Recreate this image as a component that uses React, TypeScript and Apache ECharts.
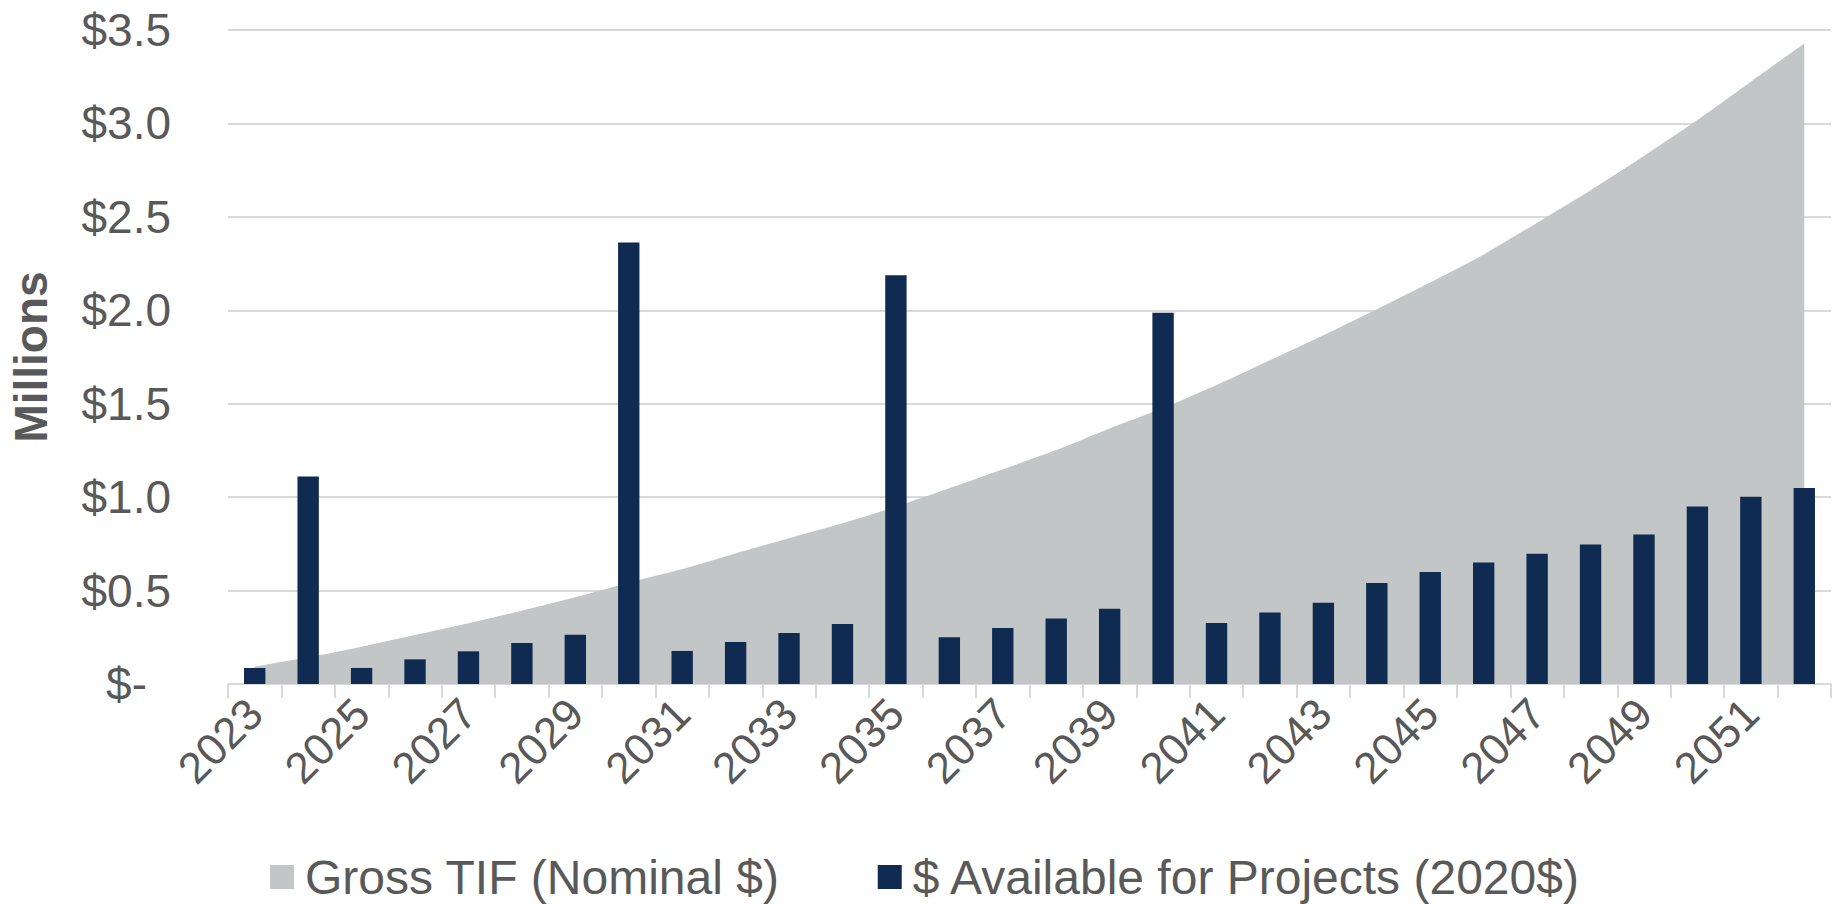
import React, { useEffect, useRef } from "react";
import * as echarts from "echarts";

const years = [
  "2023", "2024", "2025", "2026", "2027", "2028", "2029", "2030", "2031", "2032",
  "2033", "2034", "2035", "2036", "2037", "2038", "2039", "2040", "2041", "2042",
  "2043", "2044", "2045", "2046", "2047", "2048", "2049", "2050", "2051", "2052",
];

const grossTIF = [
  0.093, 0.143, 0.2, 0.262, 0.325, 0.392, 0.464, 0.542, 0.615, 0.699,
  0.78, 0.86, 0.949, 1.047, 1.149, 1.252, 1.368, 1.477, 1.6, 1.733,
  1.867, 2.006, 2.149, 2.299, 2.469, 2.643, 2.826, 3.018, 3.223, 3.428,
];

const availableForProjects = [
  0.085, 1.11, 0.086, 0.132, 0.175, 0.219, 0.264, 2.363, 0.177, 0.225,
  0.273, 0.321, 2.187, 0.25, 0.3, 0.351, 0.403, 1.987, 0.326, 0.382,
  0.435, 0.54, 0.6, 0.65, 0.697, 0.746, 0.8, 0.95, 1.002, 1.049,
];

const seriesNames = ["Gross TIF (Nominal $)", "$ Available for Projects (2020$)"];
const axisTitle = "Millions";

const TEXT = "#595959";
const FONT = "'Liberation Sans', Arial, sans-serif";

export default function App() {
  const ref = useRef<HTMLDivElement>(null);

  useEffect(() => {
    document.body.style.margin = "0";
    if (!ref.current) return;
    const chart = echarts.init(ref.current, undefined, { renderer: "svg" });
    chart.setOption({
      animation: false,
      textStyle: { fontFamily: FONT, color: TEXT },
      grid: { left: 227, right: 4, top: 30, bottom: 220, containLabel: false },
      legend: {
        data: [
          { name: seriesNames[0], icon: "rect" },
          { name: seriesNames[1], icon: "rect" },
        ],
        left: 270,
        top: 853,
        padding: 0,
        itemWidth: 24,
        itemHeight: 24,
        itemGap: 98,
        textStyle: { fontSize: 48, lineHeight: 48, color: TEXT, fontFamily: FONT, padding: [0, 0, 0, 6] },
      },
      xAxis: {
        type: "category",
        data: years,
        boundaryGap: true,
        axisLine: { show: true, lineStyle: { color: "#D9D9D9", width: 2 } },
        axisTick: { show: true, interval: 0, length: 14, lineStyle: { color: "#D9D9D9", width: 2 } },
        axisLabel: {
          interval: 1,
          rotate: 45,
          margin: 22,
          fontSize: 44,
          color: TEXT,
          fontFamily: FONT,
        },
      },
      yAxis: {
        type: "value",
        min: 0,
        max: 3.5,
        interval: 0.5,
        name: axisTitle,
        nameLocation: "middle",
        nameRotate: 90,
        nameGap: 174,
        nameTextStyle: { fontSize: 46, fontWeight: "bold", color: TEXT, fontFamily: FONT },
        axisLine: { show: false },
        axisTick: { show: false },
        splitLine: { lineStyle: { color: "#D9D9D9", width: 2 } },
        axisLabel: {
          margin: 57,
          fontSize: 46,
          color: TEXT,
          fontFamily: FONT,
          formatter: (v: number) => (v === 0 ? "{z|$-}" : "$" + v.toFixed(1)),
          rich: {
            z: { fontSize: 46, color: TEXT, fontFamily: FONT, padding: [0, 24, 0, 0] },
          },
        },
      },
      series: [
        {
          name: seriesNames[0],
          type: "line",
          data: grossTIF,
          symbol: "none",
          smooth: 0.25,
          lineStyle: { width: 0, color: "#C3C6C7" },
          itemStyle: { color: "#C3C6C7" },
          areaStyle: { color: "#C3C6C7", opacity: 1 },
          z: 1,
        },
        {
          name: seriesNames[1],
          type: "bar",
          data: availableForProjects,
          barWidth: "40%",
          itemStyle: { color: "#0F2B51" },
          z: 2,
        },
      ],
    });
    return () => chart.dispose();
  }, []);

  return <div ref={ref} style={{ width: 1835, height: 904 }} />;
}
